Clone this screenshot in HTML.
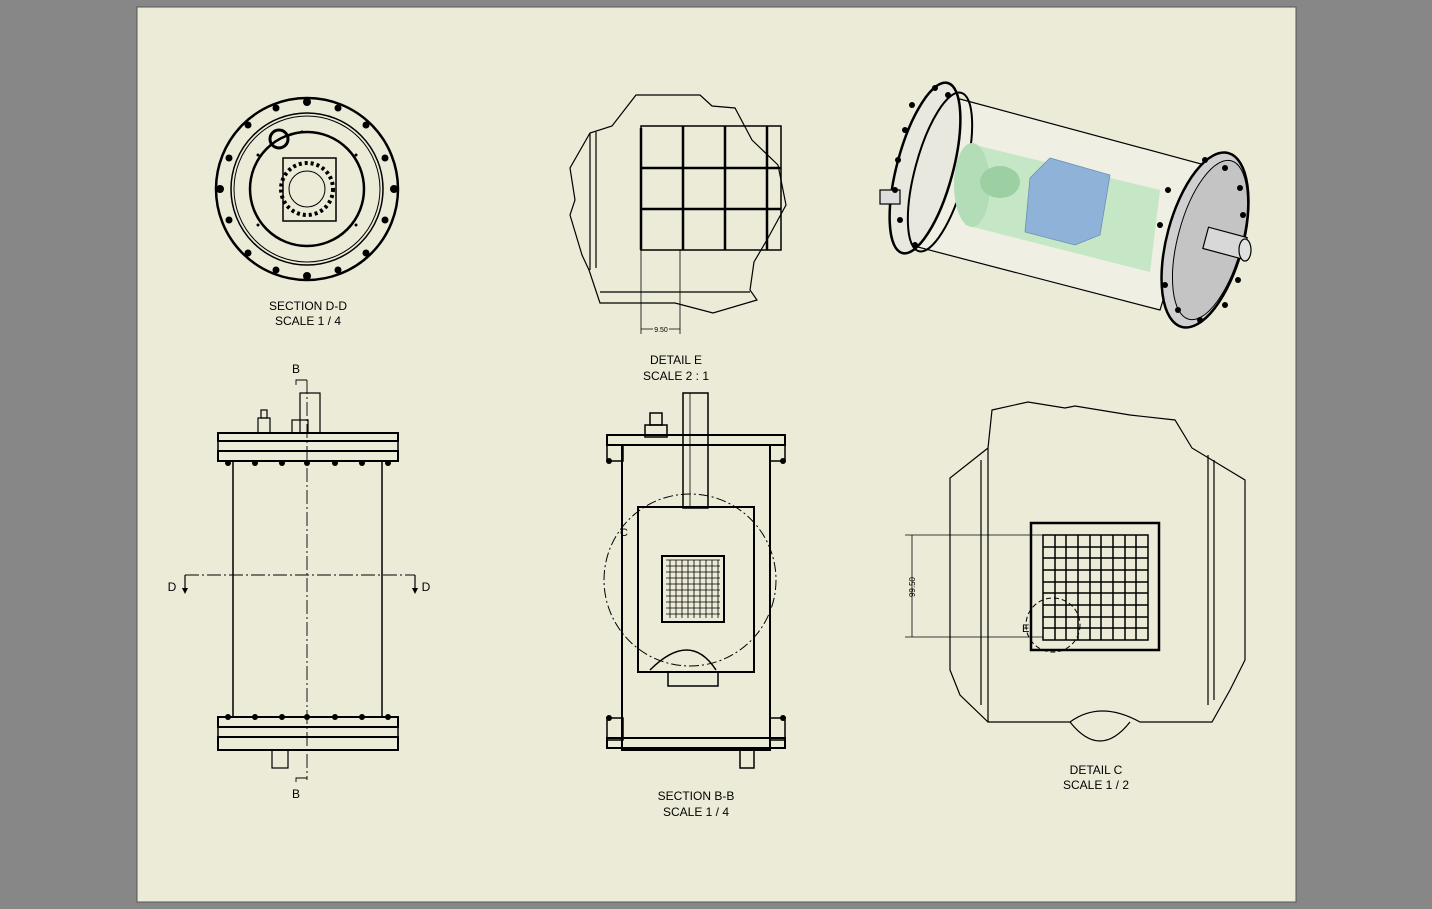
<!DOCTYPE html>
<html><head><style>
html,body{margin:0;padding:0;background:#878787;}
svg{display:block;}
text{font-family:"Liberation Sans",sans-serif;fill:#000;}
</style></head><body>
<svg width="1432" height="909" viewBox="0 0 1432 909" xmlns="http://www.w3.org/2000/svg">
<rect x="0" y="0" width="1432" height="909" fill="#878787"/>
<rect x="137" y="7" width="1159" height="895" fill="#ecebd8" stroke="#555" stroke-width="1"/>

<!-- SECTION D-D -->
<g fill="none" stroke="#000">
<circle cx="307" cy="189" r="91" stroke-width="2.5"/>
<circle cx="307" cy="189" r="76" stroke-width="1.5"/>
<circle cx="307" cy="189" r="73" stroke-width="1"/>
<circle cx="307" cy="189" r="57" stroke-width="2.5"/>
<rect x="283" y="158" width="53" height="63" stroke-width="1.5"/>
<circle cx="307" cy="189" r="26" stroke-width="4" stroke-dasharray="3 3"/>
<circle cx="307" cy="189" r="18" stroke-width="1"/>
<circle cx="279" cy="139" r="9" stroke-width="3"/>
<line x1="288" y1="136" x2="303" y2="131" stroke-width="1.5"/>
</g>
<g fill="#000">
<circle cx="307" cy="102" r="4"/><circle cx="307" cy="276" r="4"/>
<circle cx="220" cy="189" r="4"/><circle cx="394" cy="189" r="4"/>
<circle cx="276" cy="108" r="3.5"/><circle cx="338" cy="108" r="3.5"/>
<circle cx="276" cy="270" r="3.5"/><circle cx="338" cy="270" r="3.5"/>
<circle cx="248" cy="125" r="3.5"/><circle cx="366" cy="125" r="3.5"/>
<circle cx="248" cy="253" r="3.5"/><circle cx="366" cy="253" r="3.5"/>
<circle cx="229" cy="158" r="3.5"/><circle cx="385" cy="158" r="3.5"/>
<circle cx="229" cy="220" r="3.5"/><circle cx="385" cy="220" r="3.5"/>
<circle cx="258" cy="155" r="1.5"/><circle cx="356" cy="155" r="1.5"/>
<circle cx="258" cy="225" r="1.5"/><circle cx="356" cy="225" r="1.5"/>
</g>
<text x="308" y="310" font-size="12" text-anchor="middle">SECTION  D-D</text>
<text x="308" y="325" font-size="12" text-anchor="middle">SCALE 1 / 4</text>

<!-- DETAIL E -->
<g fill="none" stroke="#000" stroke-width="1.2">
<path d="M636 95 L700 95 L712 106 L735 108 L752 140 L778 165 L786 205 L768 238 L754 262 L750 290 L757 300 L713 313 L675 303 L600 303 L589 270 L582 255 L570 215 L575 200 L570 168 L590 133 L612 126 Z"/>
<line x1="590" y1="133" x2="590" y2="270"/><line x1="596" y1="132" x2="596" y2="268"/>
<line x1="600" y1="292" x2="750" y2="292"/>
</g>
<g stroke="#000" stroke-width="2.5" fill="none">
<rect x="641" y="126" width="140" height="124" stroke-width="1.5"/>
<line x1="683" y1="126" x2="683" y2="250"/><line x1="725" y1="126" x2="725" y2="250"/><line x1="767" y1="126" x2="767" y2="250"/>
<line x1="641" y1="168" x2="781" y2="168"/><line x1="641" y1="209" x2="781" y2="209"/>
<line x1="641" y1="128" x2="641" y2="250"/>
</g>
<g stroke="#000" stroke-width="0.8">
<line x1="641" y1="250" x2="641" y2="334"/><line x1="680" y1="250" x2="680" y2="334"/>
<line x1="641" y1="329" x2="680" y2="329"/>
</g>
<text x="661" y="332" font-size="7" text-anchor="middle" style="paint-order:stroke" stroke="#ecebd8" stroke-width="3">9.50</text>
<text x="676" y="364" font-size="12" text-anchor="middle">DETAIL  E</text>
<text x="676" y="380" font-size="12" text-anchor="middle">SCALE 2 : 1</text>

<!-- 3D view -->
<g stroke="#000" stroke-width="1.2">
<polygon points="945,95 1205,165 1160,310 910,245" fill="#efefe6" fill-opacity="0.9"/>
<ellipse cx="925" cy="168" rx="28" ry="88" transform="rotate(15 925 168)" fill="#e8e8df" stroke-width="2.5"/>
<ellipse cx="940" cy="172" rx="25" ry="82" transform="rotate(15 940 172)" fill="none" stroke-width="2"/>
<path d="M975 145 L1160 190 L1150 272 L965 225 Z" fill="#bde5c0" fill-opacity="0.85" stroke="none"/>
<ellipse cx="972" cy="185" rx="18" ry="42" fill="#b2ddb6" stroke="none"/>
<ellipse cx="1000" cy="182" rx="20" ry="16" fill="#9ccfa2" stroke="none"/>
<polygon points="1030,178 1050,158 1110,175 1100,235 1075,245 1025,232" fill="#8fb2d8" stroke="#6d8fb5" stroke-width="0.8"/>
<ellipse cx="1205" cy="240" rx="38" ry="90" transform="rotate(15 1205 240)" fill="#d0d0d0" stroke-width="2.5"/>
<ellipse cx="1210" cy="240" rx="32" ry="82" transform="rotate(15 1210 240)" fill="#c4c4c4" stroke-width="1"/>
<rect x="1205" y="232" width="40" height="22" fill="#d8d8d8" transform="rotate(15 1225 243)"/>
<ellipse cx="1245" cy="250" rx="6" ry="11" fill="#e0e0e0"/>
<rect x="880" y="190" width="20" height="14" fill="#ddd"/>
</g>
<g fill="#000">
<circle cx="912" cy="105" r="3"/><circle cx="905" cy="130" r="3"/><circle cx="898" cy="160" r="3"/><circle cx="895" cy="190" r="3"/><circle cx="900" cy="220" r="3"/><circle cx="915" cy="245" r="3"/>
<circle cx="935" cy="88" r="3"/><circle cx="948" cy="95" r="3"/>
<circle cx="1205" cy="160" r="3"/><circle cx="1225" cy="168" r="3"/><circle cx="1240" cy="188" r="3"/><circle cx="1243" cy="215" r="3"/><circle cx="1238" cy="280" r="3"/><circle cx="1225" cy="305" r="3"/><circle cx="1200" cy="320" r="3"/><circle cx="1178" cy="310" r="3"/><circle cx="1165" cy="285" r="3"/><circle cx="1160" cy="225" r="3"/><circle cx="1168" cy="190" r="3"/>
</g>

<!-- Front view left -->
<g fill="none" stroke="#000" stroke-width="1.2">
<rect x="218" y="433" width="180" height="8" stroke-width="2"/>
<rect x="218" y="441" width="180" height="10" stroke-width="1.5"/>
<rect x="218" y="451" width="180" height="10" stroke-width="2"/>
<rect x="233" y="461" width="149" height="256" stroke-width="1.5"/>
<rect x="218" y="717" width="180" height="10" stroke-width="2"/>
<rect x="218" y="727" width="180" height="10" stroke-width="1.5"/>
<rect x="218" y="737" width="180" height="13" stroke-width="2"/>
<rect x="292" y="420" width="16" height="13"/>
<rect x="300" y="393" width="20" height="40"/>
<rect x="258" y="418" width="12" height="15"/><rect x="261" y="410" width="6" height="8"/>
<rect x="272" y="750" width="16" height="18"/>
<line x1="307" y1="380" x2="307" y2="780" stroke-width="0.9" stroke-dasharray="14 3 2 3"/>
<line x1="185" y1="575" x2="415" y2="575" stroke-width="0.9" stroke-dasharray="14 3 2 3"/>
<polyline points="307,380 296,380 296,385" stroke-width="0.9"/>
<polyline points="307,778 296,778 296,782" stroke-width="0.9"/>
<line x1="185" y1="575" x2="185" y2="590"/><line x1="415" y1="575" x2="415" y2="590"/>
</g>
<g fill="#000">
<circle cx="228" cy="463" r="3"/><circle cx="255" cy="463" r="3"/><circle cx="282" cy="463" r="3"/><circle cx="307" cy="463" r="3"/><circle cx="335" cy="463" r="3"/><circle cx="362" cy="463" r="3"/><circle cx="388" cy="463" r="3"/>
<circle cx="228" cy="717" r="3"/><circle cx="255" cy="717" r="3"/><circle cx="282" cy="717" r="3"/><circle cx="307" cy="717" r="3"/><circle cx="335" cy="717" r="3"/><circle cx="362" cy="717" r="3"/><circle cx="388" cy="717" r="3"/>
<polygon points="182,588 188,588 185,594"/><polygon points="412,588 418,588 415,594"/>
</g>
<text x="296" y="373" font-size="12" text-anchor="middle">B</text>
<text x="296" y="798" font-size="12" text-anchor="middle">B</text>
<text x="172" y="591" font-size="12" text-anchor="middle">D</text>
<text x="426" y="591" font-size="12" text-anchor="middle">D</text>

<!-- Section B-B -->
<g fill="none" stroke="#000" stroke-width="1.5">
<rect x="607" y="435" width="178" height="10" stroke-width="2"/>
<rect x="607" y="445" width="16" height="16"/><rect x="770" y="445" width="15" height="16"/>
<rect x="622" y="445" width="148" height="305" stroke-width="2"/>
<rect x="683" y="393" width="25" height="115"/>
<line x1="690" y1="393" x2="690" y2="508" stroke-width="0.8"/>
<rect x="645" y="425" width="22" height="12"/><rect x="650" y="413" width="12" height="12"/>
<rect x="638" y="507" width="116" height="165" stroke-width="2"/>
<rect x="662" y="556" width="62" height="66" stroke-width="2"/>
<path d="M650 670 Q690 630 716 670" />
<rect x="668" y="672" width="50" height="14"/>
<rect x="607" y="718" width="16" height="22"/><rect x="770" y="718" width="15" height="22"/>
<rect x="607" y="738" width="178" height="10" stroke-width="2"/>
<rect x="740" y="748" width="14" height="20"/>
<circle cx="690" cy="580" r="86" stroke-width="1" stroke-dasharray="10 3 2 3"/>
</g>
<g stroke="#000" stroke-width="0.8">
<path d="M666 560 H720 M666 566 H720 M666 572 H720 M666 578 H720 M666 584 H720 M666 590 H720 M666 596 H720 M666 602 H720 M666 608 H720 M666 614 H720 M670 560 V618 M676 560 V618 M682 560 V618 M688 560 V618 M694 560 V618 M700 560 V618 M706 560 V618 M712 560 V618 M718 560 V618"/>
</g>
<g fill="#000"><circle cx="609" cy="461" r="3"/><circle cx="783" cy="461" r="3"/><circle cx="609" cy="718" r="3"/><circle cx="783" cy="718" r="3"/></g>
<text x="620" y="536" font-size="11">C</text>
<text x="696" y="800" font-size="12" text-anchor="middle">SECTION  B-B</text>
<text x="696" y="816" font-size="12" text-anchor="middle">SCALE 1 / 4</text>

<!-- Detail C -->
<g fill="none" stroke="#000" stroke-width="1.2">
<path d="M992 410 L1028 402 L1065 408 L1075 406 L1130 415 L1175 420 L1192 448 L1245 480 L1245 660 L1230 690 L1212 722 L1140 722 Q1100 700 1070 722 L988 722 L960 695 L950 670 L950 478 L988 448 Z"/>
<line x1="988" y1="448" x2="988" y2="722"/><line x1="981" y1="460" x2="981" y2="705"/>
<line x1="1208" y1="455" x2="1208" y2="705"/><line x1="1214" y1="460" x2="1214" y2="700"/>
<path d="M1070 722 Q1100 760 1130 722"/>
<rect x="1031" y="523" width="128" height="127" stroke-width="2.5"/>
<rect x="1043" y="535" width="105" height="105" stroke-width="1.5"/>
<circle cx="1053" cy="625" r="27" stroke-width="1" stroke-dasharray="5 3"/>
</g>
<g stroke="#000" stroke-width="1.5">
<path d="M1043 547 H1148 M1043 558 H1148 M1043 570 H1148 M1043 582 H1148 M1043 593 H1148 M1043 605 H1148 M1043 617 H1148 M1043 628 H1148 M1055 535 V640 M1066 535 V640 M1078 535 V640 M1090 535 V640 M1101 535 V640 M1113 535 V640 M1125 535 V640 M1136 535 V640"/>
</g>
<g stroke="#000" stroke-width="0.8">
<line x1="905" y1="535" x2="1043" y2="535"/><line x1="905" y1="637" x2="1043" y2="637"/>
<line x1="912" y1="535" x2="912" y2="637"/>
</g>
<text x="915" y="587" font-size="8" text-anchor="middle" transform="rotate(-90 915 587)">99.50</text>
<text x="1022" y="632" font-size="11">E</text>
<text x="1096" y="774" font-size="12" text-anchor="middle">DETAIL  C</text>
<text x="1096" y="789" font-size="12" text-anchor="middle">SCALE 1 / 2</text>
</svg>
</body></html>
